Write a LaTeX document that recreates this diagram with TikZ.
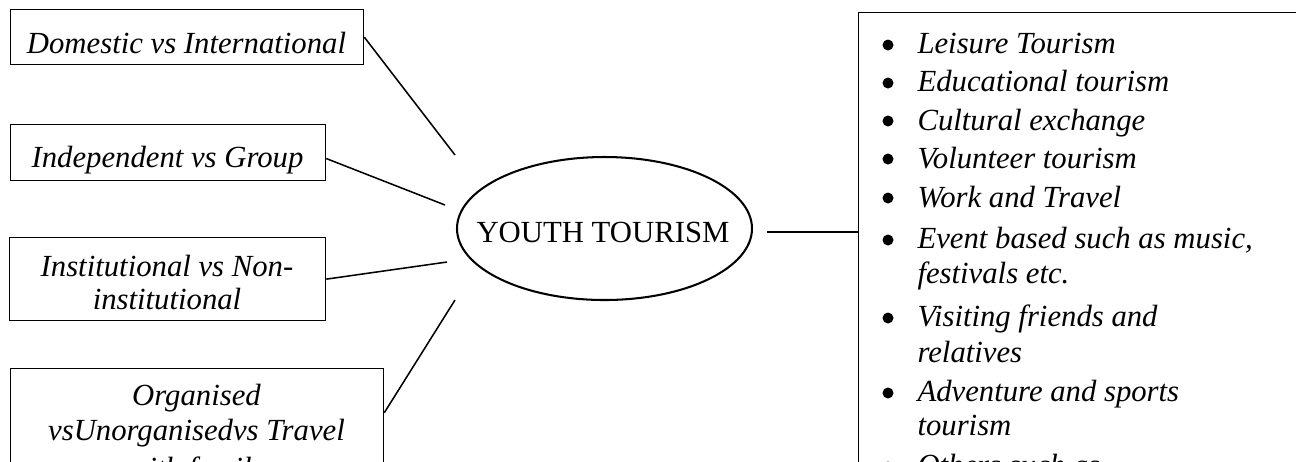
\documentclass[tikz,border=0pt]{standalone}
\usepackage{fontspec}
\setmainfont{Liberation Serif}
\usetikzlibrary{shapes.geometric}
\newcommand\pxu{0.390625pt}
\begin{document}
\begin{tikzpicture}[x=0.390625pt, y=-0.390625pt,
  every node/.style={font=\fontsize{12pt}{14pt}\selectfont},
  catbox/.style={draw, line width=0.5pt, rectangle, inner sep=0pt, anchor=north west},
  lbl/.style={font=\fontsize{12pt}{14pt}\selectfont\itshape, inner sep=0pt, anchor=base},
  entry/.style={font=\fontsize{12pt}{14pt}\selectfont\itshape, inner sep=0pt, anchor=base west},
  dot/.style={circle, fill, inner sep=0pt, minimum size=11*\pxu},
  link/.style={line width=0.6pt},
]
\useasboundingbox (0,0) rectangle (1296,461);
\clip (0,0) rectangle (1296,461);

% category boxes on the left
\node[catbox, minimum width=353*\pxu, minimum height=55*\pxu] (b1) at (10,9) {};
\node[catbox, minimum width=315*\pxu, minimum height=56*\pxu] (b2) at (10,124) {};
\node[catbox, minimum width=316*\pxu, minimum height=83*\pxu] (b3) at (9,237) {};
\node[catbox, minimum width=373*\pxu, minimum height=122*\pxu] (b4) at (10,368) {};

\node[lbl] (t1)  at (186.5,53) {Domestic vs International};
\node[lbl] (t2)  at (167.5,167) {Independent vs Group};
\node[lbl] (t3a) at (167,276) {Institutional vs Non-};
\node[lbl] (t3b) at (167,309) {institutional};
\node[lbl] (t4a) at (196.5,405) {Organised};
\node[lbl] (t4b) at (196.5,440) {vsUnorganisedvs Travel};
\node[lbl] (t4c) at (196.5,478) {with family};

% central ellipse and its title
\node[ellipse, draw, line width=0.8pt, inner sep=0pt,
      minimum width=295*\pxu, minimum height=143*\pxu] (hub) at (604.5,228.5) {};
\node[inner sep=0pt, anchor=base] (hubtext) at (603,242) {YOUTH TOURISM};

% list box on the right
\node[catbox, minimum width=500*\pxu, minimum height=520*\pxu] (rb) at (858,12) {};

\foreach \yy/\tx [count=\k] in {53/{Leisure Tourism}, 91.5/{Educational tourism},
    130/{Cultural exchange}, 168/{Volunteer tourism}, 207/{Work and Travel},
    248/{Event based such as music,}, 283/{festivals etc.},
    326/{Visiting friends and}, 362/{relatives},
    401/{Adventure and sports}, 435/{tourism}, 475/{Others such as}}
  \node[entry] (i\k) at (917,\yy) {\tx};

\foreach \yy [count=\k] in {45,83,121,159,198,240,318,393,467}
  \node[dot] (d\k) at (888,\yy) {};

% connectors
\coordinate (e1) at (455,155);
\coordinate (e2) at (445,205);
\coordinate (e3) at (447,262);
\coordinate (e4) at (455,300);
\coordinate (e5) at (767,232);
\draw[link] (b1.east) -- (e1);
\draw[link] ([yshift=-2.3pt]b2.east) -- (e2);
\draw[link] (b3.east) -- (e3);
\draw[link] ([yshift=6.6pt]b4.east) -- (e4);
\draw[link] (e5) -- (rb.west |- e5);
\end{tikzpicture}
\end{document}
